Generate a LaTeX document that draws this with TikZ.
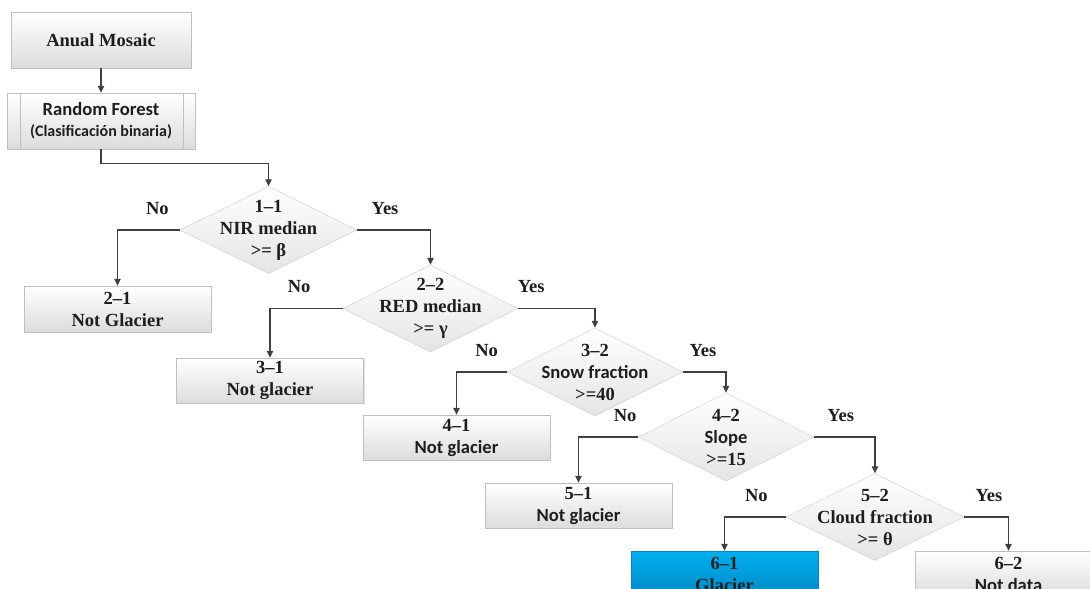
\documentclass[tikz,border=0pt]{standalone}
\usepackage{fontspec}
\setmainfont{Liberation Serif}
\newfontfamily\calib{Carlito}
\newcommand\palab{\rmfamily\bfseries\fontsize{18.5}{22}\selectfont}
\newcommand\calibb{\calib\bfseries\fontsize{18.6}{22}\selectfont}
\usetikzlibrary{arrows.meta,positioning,shapes.geometric,shadows}
\definecolor{lineg}{HTML}{404040}
\definecolor{boxedge}{HTML}{BFBFBF}
\definecolor{boxlow}{HTML}{DCDCDC}
\definecolor{dmdedge}{HTML}{CDCDCD}
\definecolor{dmdlow}{HTML}{E4E4E4}
\definecolor{glacier}{HTML}{00B0F0}
\definecolor{glacierlow}{HTML}{0088C4}
\definecolor{ink}{HTML}{1E1E1E}
\tikzset{
  proc/.style={rectangle,draw=boxedge,top color=white,bottom color=boxlow,
    minimum width=187pt,minimum height=46pt,inner sep=0pt,align=center,
    text=ink,font=\palab,
    drop shadow={shadow xshift=1.2pt,shadow yshift=-1.2pt,opacity=.25}},
  decision/.style={diamond,draw=dmdedge,top color=white,bottom color=dmdlow,
    minimum width=177pt,minimum height=87pt,inner sep=0pt},
  dtext/.style={align=center,text=ink,font=\palab,inner sep=0pt},
  link/.style={draw=lineg,line width=1.1pt,-{Triangle[length=7pt,width=6.5pt]}},
  lbl/.style={font=\palab,text=ink,inner sep=0pt,above=15pt}
}

\begin{document}
\begin{tikzpicture}[x=1pt,y=-1pt]
  \useasboundingbox (0,0) rectangle (1090,589);
  \clip (0,0) rectangle (1090,589);

  % Start
  \node[proc,minimum width=180pt,minimum height=56pt] (am) at (101,40) {Anual Mosaic};
  \node[proc,minimum width=188pt,minimum height=56pt] (rf) at (101,121)
    {{\calibb Random Forest}\\[-1pt]{\calib\bfseries\fontsize{16}{19}\selectfont(Clasificación binaria)}};
  \draw[boxedge] ([xshift=13pt]rf.north west) -- ([xshift=13pt]rf.south west);
  \draw[boxedge] ([xshift=-12pt]rf.north east) -- ([xshift=-12pt]rf.south east);

  % Decisions
  \node[decision] (d1) at (268.5,230) {};
  \node[dtext] (t1) at (d1) {1–1\\NIR median\\>= β};
  \node[decision,minimum width=175pt] (d2) at (430.5,308.5) {};
  \node[dtext] (t2) at (d2) {2–2\\RED median\\>= γ};
  \node[decision,minimum width=176pt,minimum height=88pt] (d3) at (595,372) {};
  \node[dtext] (t3) at (d3) {3–2\\{\calibb Snow fraction}\\>=40};
  \node[decision,minimum width=175pt,minimum height=88pt] (d4) at (726,437) {};
  \node[dtext] (t4) at (d4) {4–2\\{\calibb Slope}\\>=15};
  \node[decision,minimum width=178pt] (d5) at (875,517) {};
  \node[dtext] (t5) at (d5) {5–2\\Cloud fraction\\>= θ};

  % Leaves
  \node[proc] (b21) at (117.5,309) {2–1\\Not Glacier};
  \node[proc,minimum height=45pt] (b31) at (270,380.5) {3–1\\Not glacier};
  \node[proc,minimum height=45pt] (b41) at (456.5,437.5) {4–1\\{\calibb Not glacier}};
  \node[proc,minimum height=45pt] (b51) at (578.5,505.5) {5–1\\{\calibb Not glacier}};
  \node[proc,draw=glacierlow,top color=glacier,bottom color=glacierlow] (b61) at (724.5,574) {6–1\\Glacier};
  \node[proc] (b62) at (1008.5,574) {6–2\\{\calibb Not data}};

  % Connectors
  \draw[link] (am) -- (rf);
  \draw[link] (rf.south) -- ++(0,14) -| (d1.north);
  \draw[link] (d1.west) -| node[lbl,pos=.18] {No} (b21.north);
  \draw[link] (d1.east) -| node[lbl,pos=.19] {Yes} (d2.north);
  \draw[link] (d2.west) -| node[lbl,pos=.3] {No} (b31.north);
  \draw[link] (d2.east) -| node[lbl,pos=.085] {Yes} (d3.north);
  \draw[link] (d3.west) -| node[lbl,pos=.2] {No} (b41.north);
  \draw[link] (d3.east) -| node[lbl,pos=.23] {Yes} (d4.north);
  \draw[link] (d4.west) -| node[lbl,pos=.11] {No} (b51.north);
  \draw[link] (d4.east) -| node[lbl,pos=.22] {Yes} (d5.north);
  \draw[link] (d5.west) -| node[lbl,pos=.24] {No} (b61.north);
  \draw[link] (d5.east) -| node[lbl,pos=.28] {Yes} (b62.north);
\end{tikzpicture}
\end{document}
